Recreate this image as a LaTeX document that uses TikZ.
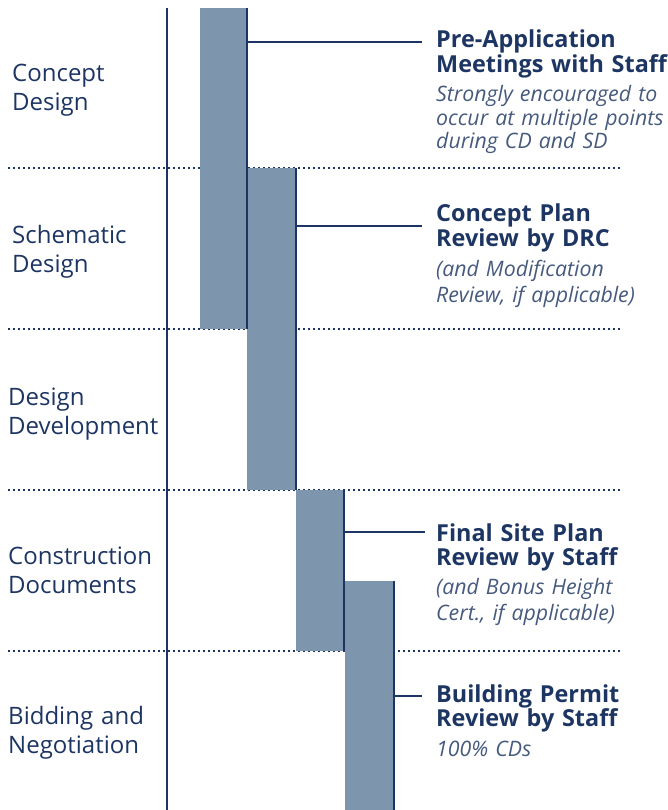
\documentclass[tikz,border=0pt]{standalone}
\usepackage{fontspec}
\setmainfont{Open Sans}
\definecolor{navy}{HTML}{1D3562}
\definecolor{steel}{HTML}{7E96AD}
\definecolor{slate}{HTML}{465A7E}
\tikzset{
  phase/.style={anchor=base west, inner sep=0pt, text width=170pt, align=left, text=navy, font=\fontsize{24}{29}\selectfont},
  title/.style={anchor=base west, inner sep=0pt, text width=300pt, align=left, text=navy, font=\fontsize{23.4}{24.5}\selectfont\bfseries},
  note/.style={anchor=base west, inner sep=0pt, text width=300pt, align=left, text=slate, font=\fontsize{21.3}{26.5}\selectfont\itshape},
  bar/.style={anchor=north west, inner sep=0pt, outer sep=0pt, fill=steel},
  edge/.style={navy, line width=2.2pt},
  leader/.style={navy, line width=2.2pt},
  sep/.style={navy, line width=2pt, dash pattern=on 2pt off 3pt},
}
\begin{document}
\begin{tikzpicture}[x=1pt, y=-1pt]
            \useasboundingbox (0,0) rectangle (668,810);
            \foreach \y in {168,329,490,651}
              \draw[sep] (8,\y) -- (620,\y);
            \node[bar, minimum width=47pt, minimum height=321pt] (cd) at (200,8) {};
            \node[bar, minimum width=49pt, minimum height=322pt] (sd) at (247,168) {};
            \node[bar, minimum width=48pt, minimum height=161pt] (cdoc) at (296,490) {};
            \node[bar, minimum width=49pt, minimum height=229pt] (bn) at (345,581) {};
            \draw[edge] (cd.north east) -- (cd.south east);
            \draw[edge] (sd.north east) -- (sd.south east);
            \draw[edge] (cdoc.north east) -- (cdoc.south east);
            \draw[edge] (bn.north east) -- (bn.south east);
            \coordinate (top) at (167,8);
            \coordinate (bot) at (167,810);
            \draw[edge] (top) -- (bot);
            \node[phase] (p1) at (12,82) {Concept\\Design};
            \node[phase] (p2) at (12,243) {Schematic\\Design};
            \node[phase] (p3) at (8,405) {Design\\Development};
            \node[phase] (p4) at (8,564) {Construction\\Documents};
            \node[phase] (p5) at (8,724) {Bidding and\\Negotiation};
            \node[title] (t1) at (436,48) {Pre-Application\\Meetings with Staff};
            \node[note, font=\fontsize{21.3}{23.5}\selectfont\itshape] (n1) at (436,102) {Strongly encouraged to\\occur at multiple points\\during CD and SD};
            \node[title] (t2) at (436,222) {Concept Plan\\Review by DRC};
            \node[note] (n2) at (436,276) {(and Modification\\Review, if applicable)};
            \node[title] (t3) at (436,541) {Final Site Plan\\Review by Staff};
            \node[note] (n3) at (436,594) {(and Bonus Height\\Cert., if applicable)};
            \node[title] (t4) at (436,702) {Building Permit\\Review by Staff};
            \node[note] (n4) at (436,756) {100\% CDs};
            \coordinate (k1) at (422,42);
            \coordinate (k2) at (422,226);
            \coordinate (k3) at (425,532);
            \coordinate (k4) at (422,696);
            \draw[leader] (k1 -| cd.east) -- (k1);
            \draw[leader] (k2 -| sd.east) -- (k2);
            \draw[leader] (k3 -| cdoc.east) -- (k3);
            \draw[leader] (k4 -| bn.east) -- (k4);
         \end{tikzpicture}
\end{document}
